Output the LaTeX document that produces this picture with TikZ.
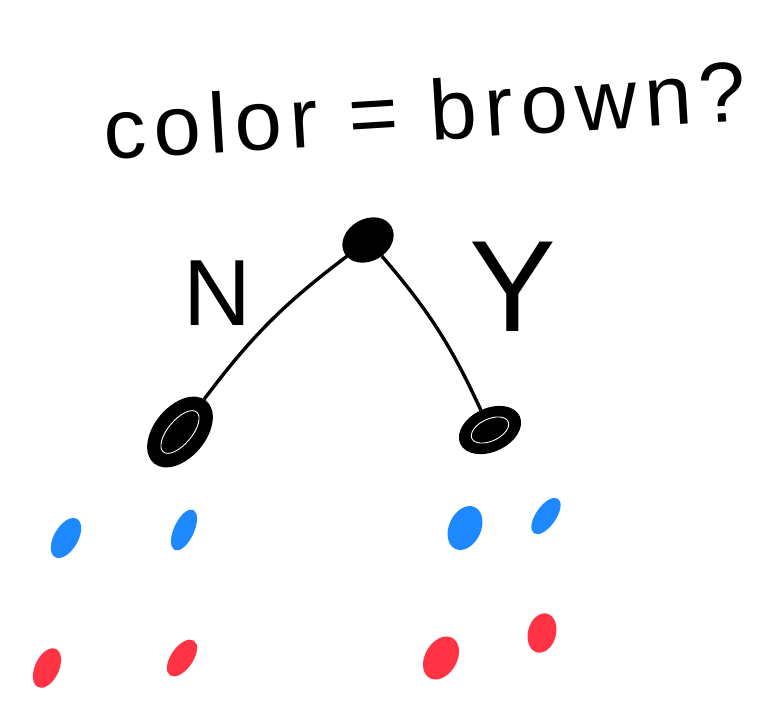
\documentclass[tikz,border=0pt]{standalone}
\usepackage{fontspec}
\setmainfont{Liberation Sans}
\newfontfamily\handfont[LetterSpace=9]{Liberation Sans}
\usetikzlibrary{shapes.geometric}
\definecolor{pblue}{RGB}{30,136,255}
\definecolor{pred}{RGB}{255,51,68}
\tikzset{
	dot/.style={ellipse, draw, line width=2pt, inner sep=0pt},
	root/.style={dot, fill=black, minimum width=52pt, minimum height=40pt, rotate=30},
	kid/.style={dot, line width=3.5pt, fill=black},
	scrib/.style={draw=white, line width=0.9pt},
	bsmp/.style={dot, draw=pblue, fill=pblue},
	rsmp/.style={dot, draw=pred, fill=pred},
	edg/.style={line width=3.4pt},
	hand/.style={font=\handfont\fontsize{85}{90}\selectfont},
	lbl/.style={inner sep=0pt},
}

\begin{document}
\begin{tikzpicture}[x=1pt, y=-1pt]
	\useasboundingbox (0,0) rectangle (783,712);
	% question
	\node[hand, lbl, rotate=3.5] at (425,110) (q) {color = brown?};
	% tree
	\node[root] at (368,240) (rt) {};
	\node[kid, minimum width=78pt, minimum height=48pt, rotate=50] at (180,432) (lc) {};
	\node[kid, minimum width=62pt, minimum height=40pt, rotate=25] at (490,430) (rc) {};
	\draw[scrib, rotate around={50:(lc.center)}] (lc.center) ellipse [x radius=26pt, y radius=12pt];
	\draw[scrib, rotate around={25:(rc.center)}] (rc.center) ellipse [x radius=20pt, y radius=11pt];
	\draw[edg] (rt) to[bend right=8] (lc);
	\draw[edg] (rt) to[bend left=8] (rc);
	\node[lbl, font=\fontsize{94}{96}\selectfont] at (217,293) (nlab) {N};
	\node[lbl, font=\fontsize{130}{132}\selectfont] at (513,287) (ylab) {Y};
	% samples
	\node[bsmp, minimum width=42pt, minimum height=22pt, rotate=60] at (66,538) (b1) {};
	\node[bsmp, minimum width=42pt, minimum height=18pt, rotate=65] at (184,530) (b2) {};
	\node[bsmp, minimum width=44pt, minimum height=30pt, rotate=65] at (465,528) (b3) {};
	\node[bsmp, minimum width=40pt, minimum height=18pt, rotate=55] at (546,516) (b4) {};
	\node[rsmp, minimum width=40pt, minimum height=22pt, rotate=65] at (47,668) (r1) {};
	\node[rsmp, minimum width=40pt, minimum height=20pt, rotate=55] at (182,658) (r2) {};
	\node[rsmp, minimum width=44pt, minimum height=30pt, rotate=60] at (441,658) (r3) {};
	\node[rsmp, minimum width=38pt, minimum height=26pt, rotate=75] at (542,633) (r4) {};
\end{tikzpicture}
\end{document}
